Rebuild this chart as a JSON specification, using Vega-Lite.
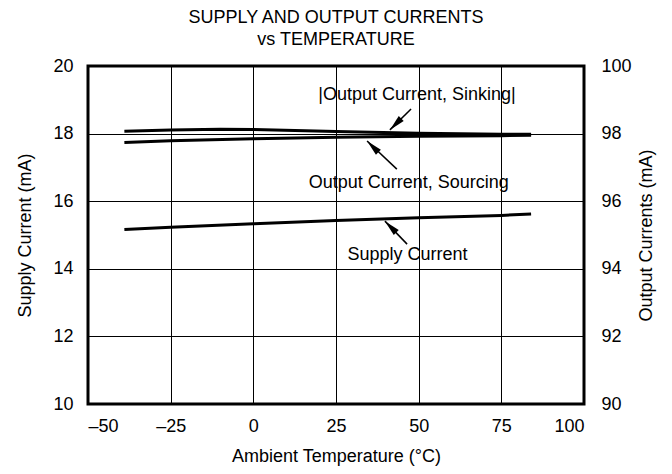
{
  "$schema": "https://vega.github.io/schema/vega-lite/v6.json",
  "width": 496,
  "height": 338,
  "autosize": "none",
  "padding": {"left": 88, "top": 66, "right": 88, "bottom": 70},
  "background": "white",
  "config": {
    "font": "Liberation Sans",
    "view": {"stroke": "black", "strokeWidth": 3},
    "axis": {
      "labelFont": "Liberation Sans",
      "labelFontSize": 18,
      "labelColor": "black",
      "titleFont": "Liberation Sans",
      "titleFontSize": 18,
      "titleFontWeight": "normal",
      "titleColor": "black",
      "domain": false,
      "ticks": false,
      "gridColor": "black",
      "gridOpacity": 1,
      "gridWidth": 1
    }
  },
  "title": {
    "text": ["SUPPLY AND OUTPUT CURRENTS", "vs TEMPERATURE"],
    "font": "Liberation Sans",
    "fontSize": 18,
    "fontWeight": "normal",
    "color": "black",
    "lineHeight": 22,
    "offset": 8,
    "anchor": "middle"
  },
  "datasets": {
    "supply": [
      {"temp": -39, "value": 15.16},
      {"temp": -25, "value": 15.23},
      {"temp": 0, "value": 15.33},
      {"temp": 25, "value": 15.43},
      {"temp": 50, "value": 15.51},
      {"temp": 75, "value": 15.58},
      {"temp": 84, "value": 15.62}
    ],
    "output": [
      {"series": "Sinking", "temp": -39, "value": 98.07},
      {"series": "Sinking", "temp": -25, "value": 98.11},
      {"series": "Sinking", "temp": -10, "value": 98.13},
      {"series": "Sinking", "temp": 0, "value": 98.12},
      {"series": "Sinking", "temp": 25, "value": 98.06},
      {"series": "Sinking", "temp": 50, "value": 98.01},
      {"series": "Sinking", "temp": 75, "value": 97.98},
      {"series": "Sinking", "temp": 84, "value": 97.98},
      {"series": "Sourcing", "temp": -39, "value": 97.74},
      {"series": "Sourcing", "temp": -25, "value": 97.79},
      {"series": "Sourcing", "temp": 0, "value": 97.85},
      {"series": "Sourcing", "temp": 25, "value": 97.89},
      {"series": "Sourcing", "temp": 50, "value": 97.92},
      {"series": "Sourcing", "temp": 75, "value": 97.94},
      {"series": "Sourcing", "temp": 84, "value": 97.95}
    ],
    "notes": [
      {"label": "|Output Current, Sinking|", "dir": "down", "tx": 49.5, "ty": 19.14, "x1": 47.7, "y1": 18.73, "x2": 41.3, "y2": 18.11},
      {"label": "Output Current, Sourcing", "dir": "up", "tx": 47.0, "ty": 16.55, "x1": 43.4, "y1": 16.95, "x2": 34.4, "y2": 17.78},
      {"label": "Supply Current", "dir": "up", "tx": 46.6, "ty": 14.4, "x1": 46.5, "y1": 14.73, "x2": 39.8, "y2": 15.41}
    ]
  },
  "layer": [
    {
      "layer": [
        {
          "data": {"name": "supply"},
          "mark": {"type": "line", "color": "black", "strokeWidth": 3},
          "encoding": {
            "x": {
              "field": "temp", "type": "quantitative",
              "scale": {"domain": [-50, 100], "nice": false},
              "title": "Ambient Temperature (°C)",
              "axis": {
                "values": [-50, -25, 0, 25, 50, 75, 100],
                "grid": true,
                "labelPadding": 13,
                "titlePadding": 12,
                "labelExpr": "datum.value < 0 ? '–' + abs(datum.value) : datum.label"
              }
            },
            "y": {
              "field": "value", "type": "quantitative",
              "scale": {"domain": [10, 20], "nice": false, "zero": false},
              "title": "Supply Current (mA)",
              "axis": {
                "values": [10, 12, 14, 16, 18, 20],
                "grid": true,
                "labelPadding": 15,
                "titlePadding": 18
              }
            }
          }
        },
        {
          "data": {"name": "notes"},
          "mark": {"type": "rule", "color": "black", "strokeWidth": 1.5},
          "encoding": {
            "x": {"field": "x1", "type": "quantitative", "scale": {"domain": [-50, 100], "nice": false}, "title": "Ambient Temperature (°C)"},
            "y": {"field": "y1", "type": "quantitative", "scale": {"domain": [10, 20], "nice": false, "zero": false}, "title": "Supply Current (mA)"},
            "x2": {"field": "x2"},
            "y2": {"field": "y2"}
          }
        },
        {
          "data": {"name": "notes"},
          "transform": [{"filter": "datum.dir === 'down'"}],
          "mark": {"type": "point", "shape": "M0,0L0.35,1.6L-0.35,1.6Z", "filled": true, "color": "black", "opacity": 1, "size": 400, "angle": 225},
          "encoding": {
            "x": {"field": "x2", "type": "quantitative", "scale": {"domain": [-50, 100], "nice": false}, "title": "Ambient Temperature (°C)"},
            "y": {"field": "y2", "type": "quantitative", "scale": {"domain": [10, 20], "nice": false, "zero": false}, "title": "Supply Current (mA)"}
          }
        },
        {
          "data": {"name": "notes"},
          "transform": [{"filter": "datum.dir === 'up'"}],
          "mark": {"type": "point", "shape": "M0,0L0.35,1.6L-0.35,1.6Z", "filled": true, "color": "black", "opacity": 1, "size": 400, "angle": 315},
          "encoding": {
            "x": {"field": "x2", "type": "quantitative", "scale": {"domain": [-50, 100], "nice": false}, "title": "Ambient Temperature (°C)"},
            "y": {"field": "y2", "type": "quantitative", "scale": {"domain": [10, 20], "nice": false, "zero": false}, "title": "Supply Current (mA)"}
          }
        },
        {
          "data": {"name": "notes"},
          "mark": {"type": "text", "font": "Liberation Sans", "fontSize": 18, "color": "black", "align": "center", "baseline": "middle"},
          "encoding": {
            "x": {"field": "tx", "type": "quantitative", "scale": {"domain": [-50, 100], "nice": false}, "title": "Ambient Temperature (°C)"},
            "y": {"field": "ty", "type": "quantitative", "scale": {"domain": [10, 20], "nice": false, "zero": false}, "title": "Supply Current (mA)"},
            "text": {"field": "label"}
          }
        }
      ]
    },
    {
      "data": {"name": "output"},
      "mark": {"type": "line", "color": "black", "strokeWidth": 3},
      "encoding": {
        "x": {"field": "temp", "type": "quantitative", "scale": {"domain": [-50, 100], "nice": false}, "title": "Ambient Temperature (°C)"},
        "y": {
          "field": "value", "type": "quantitative",
          "scale": {"domain": [90, 100], "nice": false, "zero": false},
          "title": "Output Currents (mA)",
          "axis": {
            "orient": "right",
            "values": [90, 92, 94, 96, 98, 100],
            "grid": false,
            "labelPadding": 17,
            "titlePadding": 24,
            "titleAngle": 270
          }
        },
        "detail": {"field": "series"}
      }
    }
  ],
  "resolve": {"scale": {"y": "independent"}}
}
